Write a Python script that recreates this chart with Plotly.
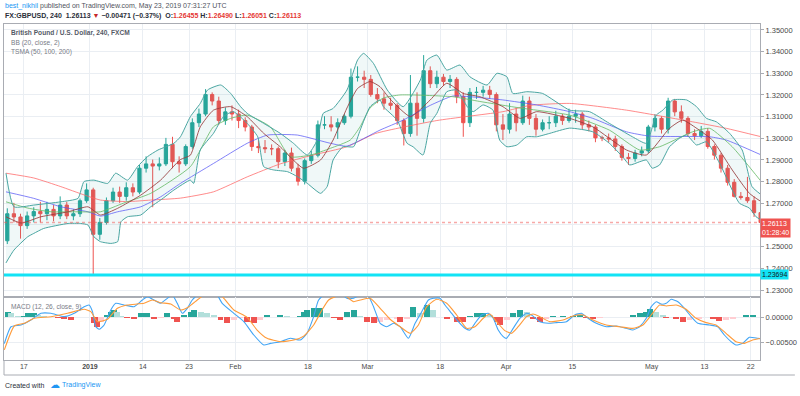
import numpy as np
import plotly.graph_objects as go

# ---------------- data (x in trading days since Dec 12 2018) ----------------
tick_days = [3, 13, 21, 28, 35, 46, 55, 66, 76, 86, 98, 106, 113]
tick_labels = ["17", "<b>2019</b>", "14", "23", "Feb", "18", "Mar", "18", "Apr", "15", "May", "13", "22"]
price_ticks = [1.23, 1.24, 1.25, 1.26, 1.27, 1.28, 1.29, 1.30, 1.31, 1.32, 1.33, 1.34, 1.35]
price_tick_text = ["1.23000", "1.24000", "1.25000", "", "1.27000", "1.28000", "1.29000", "1.30000",
                   "1.31000", "1.32000", "1.33000", "1.34000", "1.35000"]
macd_ticks = [0.0, -0.005]
macd_tick_text = ["0.00000", "−0.00500"]

first_open = 1.2527
close = [1.2652, 1.2637, 1.2597, 1.2642, 1.2662, 1.2652, 1.2672, 1.2642, 1.2692, 1.2642,
         1.2652, 1.2712, 1.2762, 1.2557, 1.2612, 1.2712, 1.2752, 1.2732, 1.2772, 1.2752,
         1.2862, 1.2882, 1.2872, 1.2882, 1.2972, 1.2892, 1.2882, 1.2962, 1.3072, 1.3112,
         1.3202, 1.3172, 1.3082, 1.3122, 1.3112, 1.3082, 1.3052, 1.2962, 1.2957, 1.2952,
         1.2952, 1.2892, 1.2932, 1.2862, 1.2802, 1.2897, 1.2922, 1.3062, 1.3062, 1.3052,
         1.3072, 1.3102, 1.3282, 1.3282, 1.3272, 1.3202, 1.3182, 1.3162, 1.3152, 1.3082,
         1.3022, 1.3162, 1.3092, 1.3312, 1.3252, 1.3282, 1.3262, 1.3272, 1.3192, 1.3072,
         1.3212, 1.3212, 1.3222, 1.3202, 1.3062, 1.3042, 1.3112, 1.3072, 1.3172, 1.3092,
         1.3042, 1.3072, 1.3072, 1.3102, 1.3082, 1.3102, 1.3112, 1.3062, 1.3052, 1.3002,
         1.3002, 1.2997, 1.2962, 1.2912, 1.2907, 1.2932, 1.2942, 1.3052, 1.3092, 1.3042,
         1.3172, 1.3122, 1.3092, 1.3022, 1.3012, 1.3032, 1.2962, 1.2922, 1.2862, 1.2797,
         1.2732, 1.2727, 1.2712, 1.2657, 1.26113]
high = [1.2677, 1.2702, 1.2652, 1.2662, 1.2682, 1.2707, 1.2707, 1.2692, 1.2732, 1.2707,
        1.2672, 1.2722, 1.2792, 1.2772, 1.2632, 1.2727, 1.2772, 1.2777, 1.2797, 1.2792,
        1.2877, 1.2917, 1.2902, 1.2912, 1.3002, 1.3007, 1.2917, 1.2972, 1.3092, 1.3137,
        1.3227, 1.3212, 1.3192, 1.3142, 1.3152, 1.3132, 1.3097, 1.3062, 1.2992, 1.2992,
        1.2972, 1.2962, 1.2947, 1.2957, 1.2882, 1.2907, 1.2942, 1.3082, 1.3102, 1.3102,
        1.3092, 1.3112, 1.3322, 1.3332, 1.3312, 1.3292, 1.3232, 1.3212, 1.3187, 1.3162,
        1.3092, 1.3292, 1.3212, 1.3384, 1.3332, 1.3312, 1.3297, 1.3292, 1.3282, 1.3212,
        1.3232, 1.3237, 1.3242, 1.3242, 1.3212, 1.3112, 1.3162, 1.3142, 1.3197, 1.3192,
        1.3112, 1.3087, 1.3102, 1.3127, 1.3112, 1.3137, 1.3132, 1.3122, 1.3082, 1.3062,
        1.3012, 1.3022, 1.3012, 1.2972, 1.2932, 1.2947, 1.2962, 1.3062, 1.3112, 1.3102,
        1.3187, 1.3182, 1.3152, 1.3102, 1.3042, 1.3057, 1.3047, 1.2972, 1.2932, 1.2877,
        1.2812, 1.2752, 1.2822, 1.2732, 1.2662]
low = [1.2512, 1.2612, 1.2537, 1.2582, 1.2612, 1.2612, 1.2622, 1.2617, 1.2627, 1.2627,
       1.2622, 1.2637, 1.2702, 1.2374, 1.2532, 1.2602, 1.2702, 1.2702, 1.2712, 1.2732,
       1.2742, 1.2842, 1.2682, 1.2852, 1.2872, 1.2862, 1.2842, 1.2872, 1.2952, 1.3052,
       1.3102, 1.3152, 1.3062, 1.3062, 1.3082, 1.3047, 1.3032, 1.2942, 1.2932, 1.2932,
       1.2922, 1.2862, 1.2872, 1.2847, 1.2782, 1.2787, 1.2882, 1.2912, 1.3042, 1.3032,
       1.2997, 1.3062, 1.3092, 1.3262, 1.3232, 1.3192, 1.3162, 1.3132, 1.3132, 1.3062,
       1.2967, 1.3007, 1.3012, 1.3072, 1.3232, 1.3232, 1.3242, 1.3232, 1.3162, 1.3007,
       1.3052, 1.3182, 1.3192, 1.3182, 1.3032, 1.2992, 1.3022, 1.3032, 1.3062, 1.3062,
       1.3012, 1.3032, 1.3042, 1.3052, 1.3062, 1.3072, 1.3072, 1.3042, 1.3032, 1.2982,
       1.2987, 1.2982, 1.2942, 1.2897, 1.2877, 1.2892, 1.2917, 1.2932, 1.3032, 1.3022,
       1.3022, 1.3102, 1.3072, 1.3007, 1.2992, 1.3002, 1.2952, 1.2902, 1.2842, 1.2782,
       1.2727, 1.2717, 1.2702, 1.2637, 1.26051]

sma200_t = [0.3, 4.5, 8.6, 12.1, 14.6, 18.7, 22.2, 26.7, 31.7, 36.8, 41.8, 46.8, 51.9, 56.2,
            65.5, 75.5, 79.6, 85.6, 94.2, 104.2, 109.3, 114.6]
sma200_v = [1.2839, 1.2817, 1.2777, 1.2739, 1.2715, 1.2708, 1.2715, 1.2724, 1.2753, 1.2822,
            1.2882, 1.2923, 1.2961, 1.3022, 1.3082, 1.3123, 1.3152, 1.3161, 1.3130, 1.3076,
            1.3046, 1.3007]
sma100_t = [0.3, 4.5, 8.6, 12.7, 14.6, 17.2, 20.7, 23.7, 26.7, 31.7, 36.8, 39.9, 44.4, 49.4,
            51.9, 56.9, 60.4, 64.5, 67.9, 70.5, 75.5, 80.6, 85.6, 89.1, 94.2, 97.7, 106.8,
            109.3, 114.6]
sma100_v = [1.2753, 1.2723, 1.2684, 1.2661, 1.2641, 1.2661, 1.2684, 1.2730, 1.2792, 1.2884,
            1.2977, 1.3015, 1.3015, 1.2977, 1.2964, 1.3038, 1.3084, 1.3152, 1.3195, 1.3192,
            1.3177, 1.3154, 1.3123, 1.3092, 1.3030, 1.3010, 1.3007, 1.2992, 1.2923]
sma50_t = [0.3, 3.6, 7.1, 11.2, 14.6, 18.1, 22.2, 28.2, 31.7, 34.3, 36.8, 40.3, 43.3, 46.4,
           49.4, 52.4, 53.9, 55.4, 57.4, 59.9, 61.9, 67.9, 72.0, 78.1, 85.6, 91.6, 96.2, 99.2,
           104.2, 106.8, 110.2, 114.6]
sma50_v = [1.2707, 1.2678, 1.2661, 1.2661, 1.2661, 1.2701, 1.2746, 1.2869, 1.3053, 1.3092,
           1.3107, 1.3053, 1.2915, 1.2923, 1.2954, 1.2992, 1.3054, 1.3140, 1.3186, 1.3200,
           1.3200, 1.3192, 1.3170, 1.3140, 1.3107, 1.3038, 1.2946, 1.2961, 1.3030, 1.3046,
           1.2961, 1.2800]
basis_t = [0.3, 2.6, 5.6, 9.7, 12.7, 14.6, 17.2, 20.7, 23.7, 26.7, 28.2, 29.7, 31.7, 34.3,
           36.8, 39.3, 41.8, 45.3, 47.9, 49.8, 51.9, 53.5, 55.4, 56.9, 58.4, 61.5, 64.5, 67.0,
           69.5, 72.0, 75.5, 78.1, 80.6, 85.6, 89.1, 94.2, 97.2, 100.7, 102.7, 105.2, 107.2,
           110.2, 112.8, 114.6]
basis_v = [1.2638, 1.2609, 1.2638, 1.2661, 1.2684, 1.2646, 1.2677, 1.2738, 1.2807, 1.2902,
           1.2922, 1.3053, 1.3130, 1.3146, 1.3100, 1.3023, 1.2961, 1.2862, 1.2900, 1.2992,
           1.3140, 1.3230, 1.3262, 1.3238, 1.3182, 1.3100, 1.3177, 1.3254, 1.3207, 1.3192,
           1.3146, 1.3092, 1.3123, 1.3092, 1.3053, 1.2946, 1.2923, 1.3046, 1.3084, 1.3038,
           1.2992, 1.2854, 1.2746, 1.2707]
upper_t = [0.3, 1.5, 4.5, 8.6, 11.2, 12.1, 13.6, 15.7, 16.9, 18.7, 20.2, 21.7, 23.3, 25.7,
           26.7, 28.2, 29.7, 30.8, 32.8, 34.3, 35.8, 36.8, 39.3, 41.8, 43.8, 45.9, 47.4, 48.3,
           49.8, 51.9, 53.5, 54.4, 55.9, 58.0, 60.4, 63.0, 64.0, 65.5, 67.0, 69.0, 70.5, 73.1,
           74.6, 76.1, 77.0, 79.1, 81.5, 85.6, 88.6, 91.6, 95.1, 97.2, 98.7, 99.7, 101.2, 103.3,
           104.8, 106.3, 107.8, 109.8, 111.7, 113.2, 114.6]
upper_v = [1.2839, 1.2684, 1.2692, 1.2707, 1.2723, 1.2800, 1.2807, 1.2792, 1.2839, 1.2807,
           1.2869, 1.2915, 1.2946, 1.2977, 1.3007, 1.3100, 1.3161, 1.3223, 1.3246, 1.3207,
           1.3146, 1.3115, 1.3069, 1.3023, 1.2977, 1.2923, 1.2992, 1.3115, 1.3138, 1.3223,
           1.3361, 1.3392, 1.3346, 1.3223, 1.3146, 1.3269, 1.3361, 1.3384, 1.3315, 1.3338,
           1.3284, 1.3246, 1.3300, 1.3284, 1.3207, 1.3215, 1.3207, 1.3130, 1.3123, 1.3069,
           1.3007, 1.2977, 1.3107, 1.3130, 1.3177, 1.3177, 1.3146, 1.3092, 1.3076, 1.3023,
           1.2946, 1.2777, 1.2739]
lower_t = [0.3, 1.5, 3.6, 4.5, 6.0, 9.7, 11.6, 12.7, 13.6, 14.6, 16.2, 17.2, 17.7, 18.7, 20.7,
           22.2, 23.7, 25.7, 28.2, 28.7, 29.7, 31.7, 33.2, 34.7, 36.8, 38.4, 39.3, 40.8, 42.9,
           44.4, 45.9, 47.9, 48.9, 49.8, 51.3, 52.9, 53.9, 55.4, 56.9, 57.4, 59.5, 61.0, 61.9,
           63.4, 64.5, 65.5, 67.0, 68.5, 70.1, 71.0, 72.5, 74.0, 75.0, 76.1, 77.6, 79.1, 80.6,
           82.6, 85.6, 89.1, 91.6, 93.6, 94.7, 96.2, 97.2, 98.1, 99.2, 100.7, 102.2, 103.3,
           104.8, 106.3, 108.3, 110.2, 111.3, 112.8, 113.8, 114.6]
lower_v = [1.2425, 1.2484, 1.2546, 1.2561, 1.2584, 1.2607, 1.2607, 1.2600, 1.2546, 1.2523,
           1.2515, 1.2523, 1.2615, 1.2638, 1.2646, 1.2684, 1.2715, 1.2761, 1.2807, 1.2792,
           1.2946, 1.3023, 1.3100, 1.3123, 1.3069, 1.3007, 1.2869, 1.2854, 1.2846, 1.2823,
           1.2792, 1.2746, 1.2777, 1.2900, 1.2961, 1.2961, 1.3038, 1.3146, 1.3177, 1.3146,
           1.3084, 1.2977, 1.2961, 1.2923, 1.3069, 1.3115, 1.3215, 1.3223, 1.3146, 1.3123,
           1.3154, 1.3130, 1.2992, 1.2961, 1.2969, 1.3007, 1.3007, 1.3023, 1.3047, 1.3030,
           1.2977, 1.2915, 1.2877, 1.2892, 1.2900, 1.2862, 1.2877, 1.2961, 1.3000, 1.3015,
           1.2969, 1.2984, 1.2884, 1.2761, 1.2700, 1.2678, 1.2638, 1.2623]

macd_t = [0.05, 1.06, 2.57, 4.08, 5.59, 7.10, 9.11, 10.62, 12.13, 12.88,
          13.39, 13.89, 14.40, 15.15, 16.16, 16.91, 18.17, 19.68, 20.94, 21.69,
          22.70, 23.71, 24.71, 25.47, 26.22, 26.98, 27.73, 28.49, 29.24, 30.75,
          32.26, 33.02, 34.78, 36.29, 37.80, 39.31, 40.31, 41.82, 43.33, 44.84,
          45.85, 46.86, 47.61, 49.88, 51.89, 52.90, 53.90, 55.16, 55.92, 56.92,
          57.93, 58.94, 59.94, 61.20, 62.21, 63.21, 64.22, 64.97, 65.98, 66.73,
          67.74, 68.75, 69.75, 70.51, 71.26, 72.27, 73.28, 74.03, 74.79, 75.54,
          76.05, 77.05, 78.06, 79.07, 79.82, 81.08, 82.34, 83.59, 85.10, 86.36,
          87.37, 88.38, 89.63, 91.14, 92.65, 94.16, 95.17, 96.18, 97.19, 97.94,
          98.70, 99.45, 100.21, 100.96, 101.97, 102.97, 103.98, 104.99, 106.75, 108.00,
          109.01, 110.02, 110.77, 111.78, 112.79, 114.04, 114.60]
macd_v = [-0.0053, -0.0019, -0.00155, -0.00054, 0.00081, 0.00081, 0.00013, 0.00081, 0.00215, 0.00249,
          0.00114, -0.0019, -0.00243, -0.00155, 0.00148, 0.00283, 0.00249, 0.00215, 0.0035, 0.00418,
          0.0035, 0.00283, 0.00384, 0.00451, 0.00283, 0.00081, 0.00182, 0.0035, 0.00451, 0.0062,
          0.00451, 0.00283, 0.00081, -0.00088, -0.00358, -0.0056, -0.00527, -0.00493, -0.00425, -0.0046,
          -0.00324, 0.00013, 0.0035, 0.0060, 0.00384, 0.00384, 0.00451, 0.00418, 0.00215, -0.00121,
          -0.0019, -0.00121, -0.0019, -0.00425, -0.00121, 0.00114, 0.0035, 0.00384, 0.00384, 0.00249,
          0.00081, -0.00088, -0.00223, -0.00257, -0.00121, 0.00047, 0.00081, -0.0002, -0.00257, -0.0039,
          -0.00425, -0.00223, -0.0002, 0.00081, 0.00047, -0.00088, -0.00121, -0.00108, -0.00088, 0.00047,
          0.00081, -0.0002, -0.00121, -0.0019, -0.00176, -0.00223, -0.00257, -0.0019, -0.0002, 0.00215,
          0.00316, 0.00266, 0.00283, 0.00364, 0.00316, 0.00182, 0.00013, -0.00121, -0.00155, -0.0019,
          -0.00358, -0.00493, -0.0056, -0.00527, -0.00405, -0.00425, -0.00435]
sig_t = [0.05, 1.56, 3.07, 4.58, 7.10, 9.61, 12.13, 13.14, 14.14, 15.65,
         17.16, 18.67, 21.19, 22.45, 23.71, 25.22, 26.72, 27.98, 29.24, 30.25,
         31.76, 33.27, 34.78, 36.79, 38.30, 39.81, 41.82, 43.84, 45.35, 46.86,
         48.12, 49.12, 50.13, 51.39, 52.90, 53.90, 55.41, 56.92, 58.43, 59.94,
         61.45, 62.71, 63.97, 65.48, 66.99, 68.50, 70.01, 71.26, 72.52, 73.53,
         74.54, 75.79, 76.80, 77.81, 79.07, 80.07, 81.08, 82.59, 84.60, 86.11,
         87.62, 89.13, 91.14, 93.16, 95.17, 96.68, 97.94, 99.20, 100.21, 101.72,
         103.22, 104.73, 106.24, 107.75, 109.26, 110.77, 112.03, 113.29, 114.60]
sig_v = [-0.0066, -0.00176, -0.00121, -0.0002, 0.00013, 0.00081, 0.00162, 0.00114, -0.00088, -0.0004,
         0.00182, 0.00249, 0.00283, 0.0035, 0.00296, 0.0027, 0.00148, 0.00215, 0.0035, 0.00451,
         0.0058, 0.00384, 0.00148, 0.0, -0.00257, -0.00425, -0.00493, -0.0046, -0.0038, -0.00155,
         0.00148, 0.0035, 0.00418, 0.0046, 0.00316, 0.0035, 0.00384, 0.00182, -0.0004, -0.0019,
         -0.00324, -0.00155, 0.00215, 0.00364, 0.00283, 0.00047, -0.00223, -0.0019, -0.0002, 0.00067,
         -0.00088, -0.0027, -0.00324, -0.0019, 0.00013, 0.00067, 0.00013, -0.00088, -0.00054, 0.00027,
         0.00047, -0.00054, -0.00155, -0.0019, -0.00223, -0.00155, 0.00047, 0.00249, 0.00229, 0.00249,
         0.00162, -0.0002, -0.00108, -0.00155, -0.00324, -0.00493, -0.00527, -0.0046, -0.00425]
hist_t = [0.55, 1.06, 2.06, 3.07, 3.58, 4.58, 5.08, 6.09, 7.10, 8.11,
          9.11, 10.12, 11.12, 12.63, 13.64, 14.14, 14.65, 15.65, 16.16, 16.66,
          17.16, 17.67, 18.67, 19.68, 20.69, 21.69, 22.70, 23.71, 24.71, 25.72,
          26.22, 27.23, 28.23, 28.74, 29.75, 30.75, 31.76, 32.76, 33.77, 34.78,
          35.78, 36.79, 37.80, 38.80, 39.81, 40.82, 41.82, 42.83, 43.84, 44.84,
          45.35, 45.85, 46.86, 47.86, 48.87, 49.88, 50.88, 51.89, 52.90, 53.90,
          54.91, 55.92, 56.92, 57.93, 59.44, 59.94, 60.95, 61.95, 62.96, 63.97,
          64.97, 65.98, 66.99, 68.50, 69.50, 70.51, 71.52, 72.52, 73.53, 74.54,
          75.04, 76.05, 77.05, 78.06, 79.07, 80.07, 81.08, 82.09, 83.09, 84.60,
          86.11, 87.12, 88.13, 89.13, 90.14, 92.15, 93.16, 95.17, 96.18, 97.19,
          97.69, 98.70, 99.70, 100.21, 101.72, 102.72, 103.73, 105.24, 106.25, 107.25,
          108.26, 109.27, 110.27, 111.28, 112.29, 113.29, 114.05]
hist_v = [0.00115, 0.00081, 0.00027, 0.00027, 0.00081, 0.00081, 0.00047, 0.00027, 0.00014, -0.0002,
          -0.0004, -0.00054, 0.0, 0.00014, -0.00121, -0.0019, -0.00088, 0.00047, 0.00115, 0.00148,
          0.00115, 0.00027, -0.0002, -0.00027, 0.00081, 0.00081, -0.0004, -0.0002, 0.00081, -0.0004,
          -0.00088, 0.00047, 0.00115, 0.00148, 0.00115, 0.00081, 0.00047, -0.00054, -0.00121, -0.00054,
          -0.0002, -0.00088, -0.00121, -0.00054, 0.00047, 0.00014, 0.00047, 0.00027, 0.0, 0.00027,
          0.00115, 0.00148, 0.00182, 0.00182, 0.00081, -0.0002, -0.00054, 0.00115, 0.00148, 0.00027,
          -0.00088, -0.00121, -0.00088, -0.00054, -0.0004, -0.00088, -0.0004, 0.00215, 0.00081, 0.00249,
          0.00148, 0.00014, -0.0004, -0.00088, -0.00088, 0.00027, 0.00081, 0.00081, 0.00047, -0.00088,
          -0.00155, -0.00054, 0.00081, 0.00148, 0.00115, -0.0004, -0.00088, -0.0004, 0.00027, 0.00027,
          0.00027, 0.00047, -0.0002, -0.0004, -0.00013, 0.0, 0.00014, 0.00047, 0.00081, 0.00115,
          0.00162, 0.00115, 0.00047, -0.0002, -0.0004, -0.00088, -0.00054, -0.00027, 0.00014, -0.0004,
          -0.00067, -0.00054, -0.0004, 0.00014, 0.00047, 0.00047, 0.00014]

last_price = 1.26113
alert_level = 1.23694

# ---------------- styling ----------------
UP, DOWN = "#26a69a", "#ef5350"
GRID = "#eaeef3"
BORDER = "#a9acb3"
TXT = "#4a4a4a"
FONT = "Liberation Sans, Arial, sans-serif"
XR = [0, 114.4]

# plot area in pixels: x 3..762, y 24..360
def px2x(px):
    return (px - 3) / 759.0

def py2y(py):
    return (360 - py) / 336.0

fig = go.Figure()

# Bollinger fill
fig.add_trace(go.Scatter(x=upper_t + lower_t[::-1], y=upper_v + lower_v[::-1],
                         fill="toself", fillcolor="rgba(38,160,150,0.07)",
                         line=dict(width=0, shape="spline", smoothing=0.5),
                         mode="lines", hoverinfo="skip", xaxis="x", yaxis="y"))

# Candles
days = np.arange(len(close)) + 0.5
opens = [first_open] + close[:-1]
fig.add_trace(go.Candlestick(x=days, open=opens, high=high, low=low, close=close,
                             increasing=dict(line=dict(color=UP, width=1), fillcolor=UP),
                             decreasing=dict(line=dict(color=DOWN, width=1), fillcolor=DOWN),
                             whiskerwidth=0, xaxis="x", yaxis="y", hoverinfo="skip"))

def line(t, v, color, width=1.0, xa="x", ya="y"):
    fig.add_trace(go.Scatter(x=t, y=v, mode="lines",
                             line=dict(color=color, width=width, shape="spline", smoothing=0.5),
                             hoverinfo="skip", xaxis=xa, yaxis=ya))

line(sma200_t, sma200_v, "rgba(255,100,100,0.75)")
line(sma100_t, sma100_v, "rgba(90,90,245,0.75)")
line(sma50_t, sma50_v, "rgba(100,185,100,0.8)")
line(upper_t, upper_v, "#4aa6a2")
line(lower_t, lower_v, "#4aa6a2")
line(basis_t, basis_v, "rgba(150,60,60,0.85)")

# MACD histogram
hcol = []
prev = 0.0
for v in hist_v:
    if v >= 0:
        hcol.append(UP if v >= prev else "#b2dfdb")
    else:
        hcol.append(DOWN if v <= prev else "#ffcdd2")
    prev = v
fig.add_trace(go.Bar(x=hist_t, y=hist_v, marker=dict(color=hcol, line=dict(width=0)),
                     width=0.9, xaxis="x2", yaxis="y2", hoverinfo="skip"))
line(macd_t, macd_v, "#42a5f5", 1.1, "x2", "y2")
line(sig_t, sig_v, "#ff9b3a", 1.1, "x2", "y2")

# horizontal lines
fig.add_shape(type="line", xref="paper", yref="y", x0=0, x1=1, y0=alert_level, y1=alert_level,
              line=dict(color="#12e3f5", width=3))
fig.add_shape(type="line", xref="paper", yref="y", x0=0, x1=1, y0=last_price, y1=last_price,
              line=dict(color="rgba(239,83,80,0.5)", width=1.5, dash="dot"))
# bottom time-axis frame
fig.add_shape(type="line", xref="paper", yref="paper", x0=0, x1=px2x(797), y0=py2y(375), y1=py2y(375),
              line=dict(color=BORDER, width=1))
fig.add_shape(type="line", xref="paper", yref="paper", x0=0, x1=0, y0=0, y1=py2y(375),
              line=dict(color=BORDER, width=1))

ann = []
def text(px, py, s, size=7, color=TXT, anchor="left"):
    ann.append(dict(x=px2x(px), y=py2y(py), xref="paper", yref="paper", text=s, showarrow=False,
                    xanchor=anchor, yanchor="middle", font=dict(size=size, color=color, family=FONT)))

RED = "#e53935"
def red(s):
    return '<span style="color:' + RED + '">' + s + '</span>'

text(2, 6, '<span style="color:#2196f3">best_nikhil</span> published on TradingView.com, May 23, 2019 07:31:27 UTC',
     7, "#50535e")
text(2, 15.7, '<b>FX:GBPUSD, 240  1.26113 <span style="color:#c62828">▼</span> −0.00471 (−0.37%)  '
     + 'O:' + red('1.26455') + ' H:' + red('1.26490') + ' L:' + red('1.26051') + ' C:' + red('1.26113') + '</b>',
     7, "#2a2e39")
text(8, 33.3, "<b>British Pound / U.S. Dollar, 240, FXCM</b>", 6.6, "#555a66")
text(8, 42.7, "BB (20, close, 2)", 6.6, "#787b86")
text(8, 52.3, "TSMA (50, 100, 200)", 6.6, "#787b86")
text(8, 306.7, "MACD (12, 26, close, 9)", 6.6, "#787b86")
text(2, 385, "Created with", 7, "#2a2e39")
text(47, 384, "☁", 10, "#2196f3")
text(59, 385, "TradingView", 7, "#2196f3")

# price labels on the axis
ann.append(dict(x=1, y=last_price, xref="paper", yref="y", xanchor="left", yanchor="middle", yshift=-5,
                text="1.26113<br>01:28:40", showarrow=False, align="left", bgcolor="#ef5350",
                borderpad=1, font=dict(size=7, color="white", family=FONT)))
ann.append(dict(x=1, y=alert_level, xref="paper", yref="y", xanchor="left", yanchor="middle",
                text="1.23694", showarrow=False, bgcolor="#12e3f5", borderpad=1,
                font=dict(size=7, color="#131722", family=FONT)))

axis_common = dict(showgrid=True, gridcolor=GRID, gridwidth=1, zeroline=False, showline=True,
                   linecolor=BORDER, linewidth=1, mirror=True)

fig.update_layout(
    width=800, height=396, margin=dict(l=3, r=38, t=24, b=36),
    paper_bgcolor="white", plot_bgcolor="white", showlegend=False,
    font=dict(family=FONT, size=7, color=TXT),
    annotations=ann, bargap=0,
    xaxis=dict(domain=[0, 1], anchor="y", range=XR, tickvals=tick_days, showticklabels=False,
               ticks="", rangeslider=dict(visible=False), **axis_common),
    xaxis2=dict(domain=[0, 1], anchor="y2", range=XR, matches="x", tickvals=tick_days,
                ticktext=tick_labels, ticks="", tickfont=dict(size=7, color=TXT), **axis_common),
    yaxis=dict(domain=[0.1875, 1], anchor="x", range=[1.22677, 1.35275], side="right",
               tickvals=price_ticks, ticktext=price_tick_text, ticks="outside", ticklen=3,
               tickcolor=BORDER, tickfont=dict(size=7.5, color=TXT), **axis_common),
    yaxis2=dict(domain=[0, 0.1875], anchor="x2", range=[-0.00864, 0.00411], side="right",
                tickvals=macd_ticks, ticktext=macd_tick_text, ticks="outside", ticklen=3,
                tickcolor=BORDER, tickfont=dict(size=7.5, color=TXT), **axis_common),
)

fig.write_html("out.html", config={"displayModeBar": False, "staticPlot": True},
               post_script="document.body.style.margin='0';document.body.style.overflow='hidden';")
